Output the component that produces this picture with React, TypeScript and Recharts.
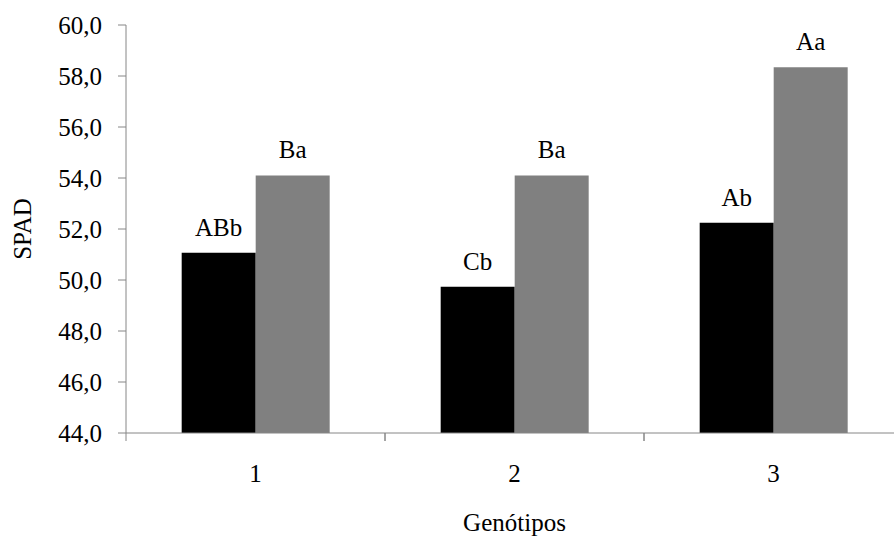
import React from 'react';
import { BarChart, Bar, XAxis, YAxis, LabelList, Label } from 'recharts';

// Genotypes on the category axis
const categories = ['1', '2', '3'];
// SPAD readings, first (black) and second (gray) series
const seriesBlack = [51.07, 49.74, 52.25];
const seriesGray = [54.1, 54.1, 58.34];
// Mean-comparison letters drawn above each bar
const lettersBlack = ['ABb', 'Cb', 'Ab'];
const lettersGray = ['Ba', 'Ba', 'Aa'];
// Y axis ticks
const yTicks = [44, 46, 48, 50, 52, 54, 56, 58, 60];

const data = categories.map((g, i) => ({
  genotipo: g,
  black: seriesBlack[i],
  gray: seriesGray[i],
  letterBlack: lettersBlack[i],
  letterGray: lettersGray[i],
}));

const FONT =
  "'Times New Roman', Tinos, 'Liberation Serif', 'Noto Serif', 'DejaVu Serif', FreeSerif, Times, serif";
const AXIS_COLOR = '#868686';
const X_TICK_SIZE = 8;
const X_TICK_MARGIN = 23;
const textStyle = { fontFamily: FONT, fontSize: 25 };

const fmt = (v: number) => v.toFixed(1).replace('.', ',');

// Category label centred in its band, with tick marks on the band edges
const CategoryTick = (props: any) => {
  const { x, y, payload } = props;
  const half = payload && typeof payload.offset === 'number' ? payload.offset : 0;
  const y0 = y - X_TICK_MARGIN - X_TICK_SIZE;
  const y1 = y - X_TICK_MARGIN;
  return (
    <g>
      {half > 0 && (
        <>
          <line x1={x - half} x2={x - half} y1={y0} y2={y1} stroke={AXIS_COLOR} strokeWidth={1} />
          <line x1={x + half} x2={x + half} y1={y0} y2={y1} stroke={AXIS_COLOR} strokeWidth={1} />
        </>
      )}
      <text x={x} y={y} dy="0.71em" textAnchor="middle" fill="#000" style={textStyle}>
        {payload.value}
      </text>
    </g>
  );
};

// Y tick label with comma decimals
const ValueTick = (props: any) => {
  const { x, y, payload } = props;
  return (
    <text x={x} y={y} dy="0.355em" textAnchor="end" fill="#000" style={textStyle}>
      {fmt(payload.value)}
    </text>
  );
};

export default function App() {
  return (
    <div style={{ position: 'fixed', left: 0, top: 0, width: 894, height: 537, overflow: 'hidden', background: '#fff', fontFamily: FONT }}>
      <BarChart
        width={910}
        height={537}
        data={data}
        margin={{ top: 25, right: 7, left: 0, bottom: 0 }}
        barGap={0}
        barCategoryGap="21.5%"
        style={{ fontFamily: FONT }}
      >
        <XAxis
          dataKey="genotipo"
          height={104}
          axisLine={{ stroke: AXIS_COLOR, strokeWidth: 1 }}
          tickLine={false}
          tickSize={X_TICK_SIZE}
          tickMargin={X_TICK_MARGIN}
          tick={<CategoryTick />}
          interval={0}
        >
          <Label value="Genótipos" position="insideBottom" offset={6} fill="#000" style={textStyle} />
        </XAxis>
        <YAxis
          width={126}
          domain={[44, 60]}
          ticks={yTicks}
          allowDataOverflow
          axisLine={{ stroke: AXIS_COLOR, strokeWidth: 1 }}
          tickLine={{ stroke: AXIS_COLOR, strokeWidth: 1 }}
          tickSize={8}
          tickMargin={16}
          tick={<ValueTick />}
        >
          <Label value="SPAD" angle={-90} position="center" dx={-41} fill="#000" style={textStyle} />
        </YAxis>
        <Bar dataKey="black" fill="#000000" isAnimationActive={false}>
          <LabelList dataKey="letterBlack" position="top" offset={17} fill="#000" style={textStyle} />
        </Bar>
        <Bar dataKey="gray" fill="#808080" isAnimationActive={false}>
          <LabelList dataKey="letterGray" position="top" offset={17} fill="#000" style={textStyle} />
        </Bar>
      </BarChart>
    </div>
  );
}
